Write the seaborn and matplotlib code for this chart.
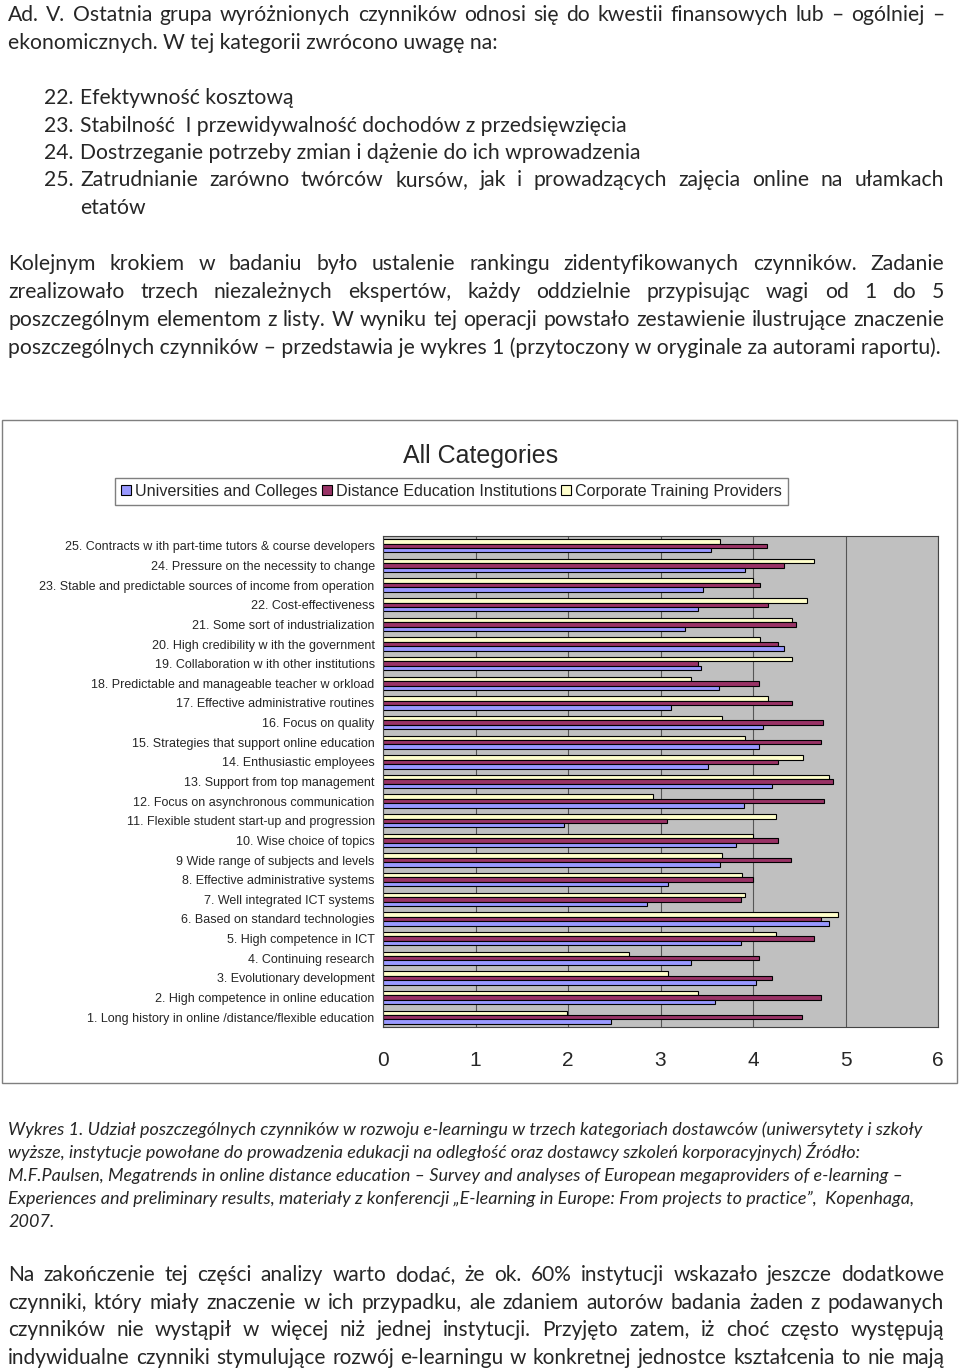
import unicodedata
import numpy as np
import pandas as pd
import seaborn as sns
import matplotlib.pyplot as plt
from matplotlib.patches import Patch, Rectangle
from matplotlib.font_manager import FontProperties

# factor labels, bottom (1) to top (25)
factors = [
    "1. Long history in online /distance/flexible education",
    "2. High competence in online education",
    "3. Evolutionary development",
    "4. Continuing research",
    "5. High competence in ICT",
    "6. Based on standard technologies",
    "7. Well integrated ICT systems",
    "8. Effective administrative systems",
    "9 Wide range of subjects and levels",
    "10. Wise choice of topics",
    "11. Flexible student start-up and progression",
    "12. Focus on asynchronous communication",
    "13. Support from top management",
    "14. Enthusiastic employees",
    "15. Strategies that support online education",
    "16. Focus on quality",
    "17. Effective administrative routines",
    "18. Predictable and manageable teacher w orkload",
    "19. Collaboration w ith other institutions",
    "20. High credibility w ith the government",
    "21. Some sort of industrialization",
    "22. Cost-effectiveness",
    "23. Stable and predictable sources of income from operation",
    "24. Pressure on the necessity to change",
    "25. Contracts w ith part-time tutors & course developers",
]
universities = [2.46, 3.59, 4.03, 3.33, 3.87, 4.82, 2.85, 3.08, 3.64, 3.82, 1.96, 3.90, 4.21,
                3.51, 4.07, 4.11, 3.11, 3.63, 3.44, 4.34, 3.26, 3.40, 3.46, 3.91, 3.55]
distance = [4.53, 4.73, 4.21, 4.07, 4.66, 4.73, 3.87, 4.00, 4.41, 4.27, 3.07, 4.77, 4.86,
            4.27, 4.73, 4.76, 4.42, 4.07, 3.40, 4.27, 4.47, 4.16, 4.08, 4.34, 4.15]
corporate = [1.99, 3.41, 3.08, 2.66, 4.25, 4.92, 3.91, 3.88, 3.67, 4.00, 4.25, 2.92, 4.82,
             4.54, 3.91, 3.67, 4.16, 3.33, 4.42, 4.08, 4.42, 4.58, 4.00, 4.66, 3.64]
providers = ["Universities and Colleges", "Distance Education Institutions", "Corporate Training Providers"]
colors = {"Universities and Colleges": "#9999ff",
          "Distance Education Institutions": "#993366",
          "Corporate Training Providers": "#ffffcc"}

text_top = [
    ("Ad. V. Ostatnia grupa wyróżnionych czynników odnosi się do kwestii finansowych lub – ogólniej –", True),
    ("ekonomicznych. W tej kategorii zwrócono uwagę na:", False),
]
list_items = [
    ("22.", "Efektywność kosztową", False),
    ("23.", "Stabilność  I przewidywalność dochodów z przedsięwzięcia", False),
    ("24.", "Dostrzeganie potrzeby zmian i dążenie do ich wprowadzenia", False),
    ("25.", "Zatrudnianie zarówno twórców kursów, jak i prowadzących zajęcia online na ułamkach", True),
    ("", "etatów", False),
]
para2 = [
    ("Kolejnym krokiem w badaniu było ustalenie rankingu zidentyfikowanych czynników. Zadanie", True),
    ("zrealizowało trzech niezależnych ekspertów, każdy oddzielnie przypisując wagi od 1 do 5", True),
    ("poszczególnym elementom z listy. W wyniku tej operacji powstało zestawienie ilustrujące znaczenie", True),
    ("poszczególnych czynników – przedstawia je wykres 1 (przytoczony w oryginale za autorami raportu).", False),
]
caption = [
    "Wykres 1. Udział poszczególnych czynników w rozwoju e-learningu w trzech kategoriach dostawców (uniwersytety i szkoły",
    "wyższe, instytucje powołane do prowadzenia edukacji na odległość oraz dostawcy szkoleń korporacyjnych) Źródło:",
    "M.F.Paulsen, Megatrends in online distance education – Survey and analyses of European megaproviders of e-learning –",
    "Experiences and preliminary results, materiały z konferencji „E-learning in Europe: From projects to practice”,  Kopenhaga,",
    "2007.",
]
para3 = [
    "Na zakończenie tej części analizy warto dodać, że ok. 60% instytucji wskazało jeszcze dodatkowe",
    "czynniki, który miały znaczenie w ich przypadku, ale zdaniem autorów badania żaden z podawanych",
    "czynników nie wystąpił w więcej niż jednej instytucji. Przyjęto zatem, iż choć często występują",
    "indywidualne czynniki stymulujące rozwój e-learningu w konkretnej jednostce kształcenia to nie mają",
]

df = pd.DataFrame({
    "factor": factors * 3,
    "provider": np.repeat(providers, len(factors)),
    "score": universities + distance + corporate,
})

sns.set_theme(style="white")
plt.rcParams["font.family"] = ["Liberation Sans", "DejaVu Sans"]
BODY = "Lato"

W, H = 960, 1369
fig = plt.figure(figsize=(W / 100, H / 100), dpi=100)
renderer = fig.canvas.get_renderer()


def line(txt, x0, base, size, x1=None, style="normal"):
    txt = unicodedata.normalize("NFC", txt)
    fp = FontProperties(family=BODY, size=size, style=style)
    if x1 is None:
        fig.text(x0 / W, 1 - base / H, txt, fontproperties=fp, va="baseline", ha="left")
        return
    words = txt.split()
    widths = [renderer.get_text_width_height_descent(w, fp, ismath=False)[0] for w in words]
    gap = (x1 - x0 - sum(widths)) / (len(words) - 1)
    x = x0
    for w, wd in zip(words, widths):
        fig.text(x / W, 1 - base / H, w, fontproperties=fp, va="baseline", ha="left")
        x += wd + gap


# text above the chart
for i, (t, just) in enumerate(text_top):
    line(t, 8, 21 + 28 * i, 15.2, 944 if just else None)
for i, (num, t, just) in enumerate(list_items):
    b = 104 + 27.5 * i
    if num:
        line(num, 44, b, 15.2)
    line(t, 80, b, 15.2, 944 if just else None)
for i, (t, just) in enumerate(para2):
    line(t, 8, 270 + 28 * i, 15.2, 944 if just else None)

# chart frame, title, legend
fig.add_artist(Rectangle((2 / W, 1 - 1083 / H), 955 / W, 663 / H, transform=fig.transFigure,
                         fill=False, edgecolor="#7f7f7f", linewidth=1))
fig.text(481 / W, 1 - 456 / H, "All Categories", ha="center", va="center", fontsize=18)
handles = [Patch(facecolor=colors[p], edgecolor="black", linewidth=0.8) for p in providers]
fig.legend(handles, providers, ncol=3, loc="center", bbox_to_anchor=(451.5 / W, 1 - 491.5 / H),
           fontsize=11.6, frameon=True, fancybox=False, edgecolor="#7f7f7f", framealpha=1,
           handlelength=0.6, handleheight=0.6, handletextpad=0.25, columnspacing=0.3,
           borderpad=0.35, borderaxespad=0)

ax = fig.add_axes([383 / W, 1 - 1027 / H, 555 / W, 491 / H])
sns.barplot(data=df, y="factor", x="score", hue="provider", order=factors[::-1],
            hue_order=providers[::-1], palette=colors, saturation=1, width=0.68,
            edgecolor="black", linewidth=0.8, legend=False, ax=ax, errorbar=None)
ax.set_facecolor("#c0c0c0")
ax.set_xlim(0, 6)
ax.set_xticks(range(7))
ax.xaxis.grid(True, color="#555555", linewidth=0.8)
ax.set_axisbelow(True)
ax.set_xlabel("")
ax.set_ylabel("")
for s in ax.spines.values():
    s.set_color("#444444")
    s.set_linewidth(0.8)
ax.tick_params(axis="x", labelsize=15, length=4, pad=13, color="#444444")
ax.tick_params(axis="y", which="major", labelsize=9, length=0, pad=6)
ax.set_yticks(np.arange(-0.5, 25, 1), minor=True)
ax.tick_params(axis="y", which="minor", length=4, color="#444444")

# caption and closing paragraph
for i, t in enumerate(caption):
    line(t, 8, 1135 + 23 * i, 13, style="italic")
for i, t in enumerate(para3):
    line(t, 8, 1281 + 27.7 * i, 15, 944)

fig.savefig("out.png", dpi=100)
